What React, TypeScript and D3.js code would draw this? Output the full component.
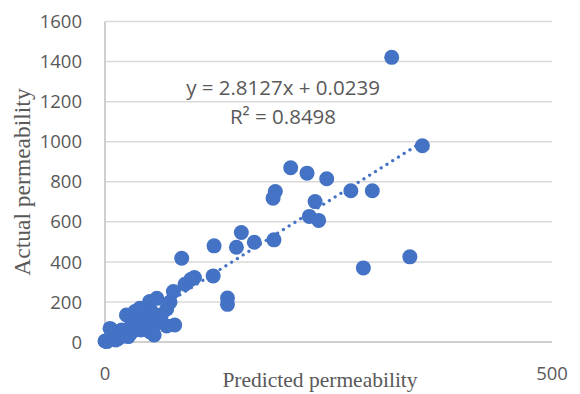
import { useEffect, useRef } from 'react';
import * as d3 from 'd3';

// predicted permeability (x) vs actual permeability (y)
const predicted = [
  320.7, 355, 275, 299, 289, 341,
  207.7, 226, 248, 190.5, 188, 235, 228.5, 239,
  122, 152.5, 147, 167, 189, 121, 137, 137,
  85.8, 96, 100, 89.5, 76.5, 72.7, 50, 69, 58,
  78, 69, 52, 44.7, 24, 33.5, 52, 41, 30, 18.6, 7.5, 0, 7.5, 15, 26, 22,
  60, 63, 35, 39, 5.6, 2, 10, 12, 28, 46, 56, 50, 55,
  15, 20, 31, 40, 36,
];
const actual = [
  1421, 980, 755, 755, 370, 425,
  870, 843, 815, 751, 718, 701, 627, 607,
  480, 547, 473, 498, 510, 330, 220, 188,
  418, 312, 322, 288, 252, 200, 202, 165, 218,
  85, 80, 60, 127, 135, 152, 152, 110, 93, 60, 60, 5, 27, 18, 27, 52,
  102, 135, 102, 168, 68, 2, 40, 10, 40, 70, 90, 52, 35,
  40, 30, 55, 60, 78,
];
const yTicks = [0, 200, 400, 600, 800, 1000, 1200, 1400, 1600];
const xTicks = [0, 500];
const slope = 2.8127;
const intercept = 0.0239;
const equationText = 'y = 2.8127x + 0.0239';
const r2Text = 'R² = 0.8498';

export default function App() {
  const ref = useRef<SVGSVGElement>(null);

  useEffect(() => {
    const svg = d3.select(ref.current);
    svg.selectAll('*').remove();

    const x = d3.scaleLinear().domain([0, 500]).range([105, 552]);
    const y = d3.scaleLinear().domain([0, 1600]).range([342, 21.5]);
    const blue = '#4472C4';
    const grey = '#595959';

    // gridlines
    svg
      .append('g')
      .selectAll('line')
      .data(yTicks)
      .enter()
      .append('line')
      .attr('x1', x(0))
      .attr('x2', x(500))
      .attr('y1', (d) => y(d))
      .attr('y2', (d) => y(d))
      .attr('stroke', (d) => (d === 0 ? '#bfbfbf' : '#d9d9d9'))
      .attr('stroke-width', 1.5);

    // vertical axis line
    svg
      .append('line')
      .attr('x1', x(0))
      .attr('x2', x(0))
      .attr('y1', y(1600))
      .attr('y2', y(0))
      .attr('stroke', '#bfbfbf')
      .attr('stroke-width', 1.5);

    // y tick labels
    svg
      .append('g')
      .selectAll('text')
      .data(yTicks)
      .enter()
      .append('text')
      .attr('x', 82)
      .attr('y', (d) => y(d))
      .attr('dy', '0.36em')
      .attr('text-anchor', 'end')
      .attr('font-family', 'Open Sans')
      .attr('font-size', 18.5)
      .attr('fill', grey)
      .text((d) => d);

    // x tick labels
    svg
      .append('g')
      .selectAll('text')
      .data(xTicks)
      .enter()
      .append('text')
      .attr('x', (d) => x(d))
      .attr('y', 373)
      .attr('dy', '0.36em')
      .attr('text-anchor', 'middle')
      .attr('font-family', 'Open Sans')
      .attr('font-size', 18.5)
      .attr('fill', grey)
      .text((d) => d);

    // points
    const points = predicted.map((p, i) => [p, actual[i]]);
    svg
      .append('g')
      .selectAll('circle')
      .data(points)
      .enter()
      .append('circle')
      .attr('cx', (d) => x(d[0]))
      .attr('cy', (d) => y(d[1]))
      .attr('r', 7.5)
      .attr('fill', blue);

    // linear trendline
    const xMax = d3.max(predicted) as number;
    const trend = d3
      .line<number>()
      .x((d) => x(d))
      .y((d) => y(slope * d + intercept));
    svg
      .append('path')
      .attr('d', trend([0, xMax]))
      .attr('stroke', blue)
      .attr('stroke-width', 3.2)
      .attr('stroke-linecap', 'round')
      .attr('stroke-dasharray', '0.1 6.7')
      .attr('fill', 'none');

    // equation
    svg
      .append('text')
      .attr('x', 283)
      .attr('y', 95)
      .attr('text-anchor', 'middle')
      .attr('font-family', 'Open Sans')
      .attr('font-size', 20.5)
      .attr('fill', grey)
      .text(equationText);
    svg
      .append('text')
      .attr('x', 283)
      .attr('y', 124)
      .attr('text-anchor', 'middle')
      .attr('font-family', 'Open Sans')
      .attr('font-size', 20.5)
      .attr('fill', grey)
      .text(r2Text);

    // axis titles
    svg
      .append('text')
      .attr('transform', 'translate(30,182) rotate(-90)')
      .attr('text-anchor', 'middle')
      .attr('font-family', 'Liberation Serif')
      .attr('font-size', 23.5)
      .attr('fill', grey)
      .text('Actual permeability');
    svg
      .append('text')
      .attr('x', 320)
      .attr('y', 387)
      .attr('text-anchor', 'middle')
      .attr('font-family', 'Liberation Serif')
      .attr('font-size', 21.5)
      .attr('fill', grey)
      .text('Predicted permeability');
  }, []);

  return (
    <div style={{ position: 'fixed', left: 0, top: 0 }}>
      <svg ref={ref} width={580} height={394} style={{ display: 'block', background: '#fff' }} />
    </div>
  );
}
